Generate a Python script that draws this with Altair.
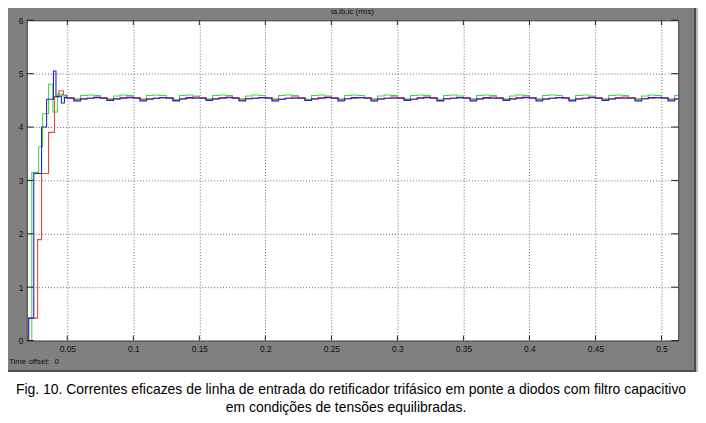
import altair as alt
import pandas as pd

# ---------------- data ----------------
# start-up transient (step values)
blue_t0 = [0.0193, 0.0208, 0.0246, 0.0305, 0.0343, 0.0395, 0.0414, 0.0440, 0.0455, 0.0478]
blue_v0 = [0.0, 0.42, 3.13, 4.00, 4.52, 5.05, 4.57, 4.58, 4.45, 4.55]
green_t0 = [0.0193, 0.0231, 0.0283, 0.0313, 0.0358, 0.0391, 0.0425, 0.0463]
green_v0 = [0.0, 3.15, 3.63, 4.25, 4.80, 4.28, 4.62, 4.58]
red_t0 = [0.0193, 0.0204, 0.0275, 0.0305, 0.0358, 0.0403, 0.0436, 0.0470, 0.0493]
red_v0 = [0.0, 0.42, 1.89, 3.13, 3.90, 4.57, 4.68, 4.60, 4.55]

# steady state, sampled every 5 ms from t = 0.05 s
ss_start = 0.05
ss_step = 0.005
blue_ss = [
    4.54, 4.49, 4.53, 4.54, 4.55, 4.54, 4.50, 4.53, 4.54, 4.55,
    4.54, 4.49, 4.52, 4.54, 4.55, 4.54, 4.49, 4.53, 4.55, 4.54,
    4.54, 4.50, 4.53, 4.54, 4.55, 4.54, 4.49, 4.53, 4.54, 4.55,
    4.54, 4.49, 4.52, 4.54, 4.54, 4.54, 4.50, 4.53, 4.54, 4.55,
    4.54, 4.49, 4.53, 4.55, 4.55, 4.54, 4.49, 4.53, 4.54, 4.54,
    4.54, 4.50, 4.52, 4.54, 4.55, 4.54, 4.49, 4.53, 4.54, 4.55,
    4.54, 4.49, 4.53, 4.55, 4.54, 4.54, 4.50, 4.53, 4.54, 4.55,
    4.54, 4.49, 4.52, 4.54, 4.55, 4.54, 4.49, 4.53, 4.54, 4.55,
    4.54, 4.50, 4.53, 4.54, 4.54, 4.54, 4.49, 4.53, 4.55, 4.55,
    4.54, 4.49, 4.53, 4.54,
]
red_ss = [
    4.55, 4.51, 4.52, 4.54, 4.56, 4.55, 4.51, 4.52, 4.55, 4.56,
    4.55, 4.51, 4.53, 4.54, 4.55, 4.55, 4.50, 4.52, 4.54, 4.56,
    4.55, 4.51, 4.52, 4.55, 4.56, 4.55, 4.51, 4.53, 4.54, 4.55,
    4.55, 4.51, 4.52, 4.54, 4.56, 4.55, 4.50, 4.52, 4.55, 4.56,
    4.55, 4.51, 4.53, 4.54, 4.55, 4.55, 4.51, 4.52, 4.54, 4.56,
    4.55, 4.51, 4.52, 4.55, 4.56, 4.55, 4.50, 4.53, 4.54, 4.55,
    4.55, 4.51, 4.52, 4.54, 4.56, 4.55, 4.51, 4.52, 4.55, 4.56,
    4.55, 4.51, 4.53, 4.54, 4.55, 4.55, 4.50, 4.52, 4.54, 4.56,
    4.55, 4.51, 4.52, 4.55, 4.56, 4.55, 4.51, 4.53, 4.54, 4.55,
    4.55, 4.51, 4.52, 4.54,
]
green_ss = [
    4.55, 4.53, 4.59, 4.60, 4.59, 4.55, 4.53, 4.58, 4.60, 4.59,
    4.55, 4.53, 4.59, 4.60, 4.59, 4.55, 4.52, 4.59, 4.60, 4.58,
    4.55, 4.53, 4.59, 4.60, 4.59, 4.55, 4.53, 4.58, 4.60, 4.59,
    4.55, 4.53, 4.59, 4.60, 4.59, 4.55, 4.52, 4.59, 4.60, 4.58,
    4.55, 4.53, 4.59, 4.60, 4.59, 4.55, 4.53, 4.58, 4.60, 4.59,
    4.55, 4.53, 4.59, 4.60, 4.59, 4.55, 4.52, 4.59, 4.60, 4.58,
    4.55, 4.53, 4.59, 4.60, 4.59, 4.55, 4.53, 4.58, 4.60, 4.59,
    4.55, 4.53, 4.59, 4.60, 4.59, 4.55, 4.52, 4.59, 4.60, 4.58,
    4.55, 4.53, 4.59, 4.60, 4.59, 4.55, 4.53, 4.58, 4.60, 4.59,
    4.55, 4.53, 4.59, 4.60,
]

x_ticks = [0.05, 0.1, 0.15, 0.2, 0.25, 0.3, 0.35, 0.4, 0.45, 0.5]
y_ticks = [0, 1, 2, 3, 4, 5, 6]
x_domain = [0.0193, 0.5127]
y_domain = [0, 6]

plot_title = "ia,ib,ic (rms)"
offset_label = "Time offset:"
offset_value = "0"
caption_1 = ("Fig. 10. Correntes eficazes de linha de entrada do retificador trifásico "
             "em ponte a diodos com filtro capacitivo")
caption_2 = "em condições de tensões equilibradas."

# ---------------- build tables ----------------
def series(t0, v0, ss):
    t = list(t0) + [round(ss_start + i * ss_step, 4) for i in range(len(ss))]
    v = list(v0) + list(ss)
    return pd.DataFrame({"t": t, "v": v})

df_blue = series(blue_t0, blue_v0, blue_ss)
df_green = series(green_t0, green_v0, green_ss)
df_red = series(red_t0, red_v0, red_ss)

W, H = 659, 324
FONT = "Liberation Sans"

X = alt.X("t:Q", scale=alt.Scale(domain=x_domain, nice=False, zero=False),
          axis=alt.Axis(values=x_ticks, format=".2~f", title=None))
Y = alt.Y("v:Q", scale=alt.Scale(domain=y_domain, nice=False),
          axis=alt.Axis(values=y_ticks, format="d", title=None))

def line(df, color):
    return alt.Chart(df).mark_line(interpolate="step-after", strokeWidth=1.1,
                                   color=color, clip=True).encode(x=X, y=Y)

one = pd.DataFrame({"k": [0]})
xt = pd.DataFrame({"t": x_ticks})
yt = pd.DataFrame({"v": y_ticks})

tick_col = "#202020"
ticks_left = alt.Chart(yt).mark_rule(color=tick_col).encode(y=Y, x=alt.value(0), x2=alt.value(7))
ticks_right = alt.Chart(yt).mark_rule(color=tick_col).encode(y=Y, x=alt.value(W - 7), x2=alt.value(W))
ticks_top = alt.Chart(xt).mark_rule(color=tick_col).encode(x=X, y=alt.value(0), y2=alt.value(5))
ticks_bot = alt.Chart(xt).mark_rule(color=tick_col).encode(x=X, y=alt.value(H - 5), y2=alt.value(H))

white_bottom = alt.Chart(one).mark_rect(color="white").encode(
    x=alt.value(-40), x2=alt.value(720), y=alt.value(355.5), y2=alt.value(430))
border_bottom = alt.Chart(one).mark_rect(color="#3c3c3c").encode(
    x=alt.value(-40), x2=alt.value(677), y=alt.value(354), y2=alt.value(355.5))
border_right = alt.Chart(one).mark_rect(color="#4a4a4a").encode(
    x=alt.value(675), x2=alt.value(677), y=alt.value(-20), y2=alt.value(355.5))
border_right2 = alt.Chart(one).mark_rect(color="#b8b8b8").encode(
    x=alt.value(677), x2=alt.value(690), y=alt.value(-20), y2=alt.value(355.5))

def txt(s, x, y, size, align="center", color="#111111"):
    return alt.Chart(one).mark_text(text=s, font=FONT, fontSize=size, align=align,
                                    baseline="middle", color=color).encode(
        x=alt.value(x), y=alt.value(y))

t_title = txt(plot_title, W / 2, -8, 8)
t_off = txt(offset_label, -18, 346, 8, align="left")
t_off0 = txt(offset_value, 28, 346, 8, align="left")
t_cap1 = txt(caption_1, 328, 374, 14.1, color="#000000")
t_cap2 = txt(caption_2, 323, 392, 14.1, color="#000000")

chart = alt.layer(
    line(df_green, "#3ddc3d"),
    line(df_red, "#e04646"),
    line(df_blue, "#2323c8"),
    ticks_left, ticks_right, ticks_top, ticks_bot,
    white_bottom, border_bottom, border_right, border_right2,
    t_title, t_off, t_off0, t_cap1, t_cap2,
).properties(
    width=W, height=H,
    autosize=alt.AutoSizeParams(type="none"),
    padding={"left": 19, "top": 10, "right": 20, "bottom": 81},
    background="#808080",
).configure_view(
    fill="white", stroke="#3a3a3a", strokeWidth=1
).configure_axis(
    ticks=False, tickSize=0, domain=False,
    grid=True, gridColor="#6a6a6a", gridDash=[1, 2], gridOpacity=1, gridWidth=1,
    labelFont=FONT, labelFontSize=8.5, labelColor="#111111", labelPadding=4,
)

chart.save("out.html", embed_options={"renderer": "svg", "actions": False})
